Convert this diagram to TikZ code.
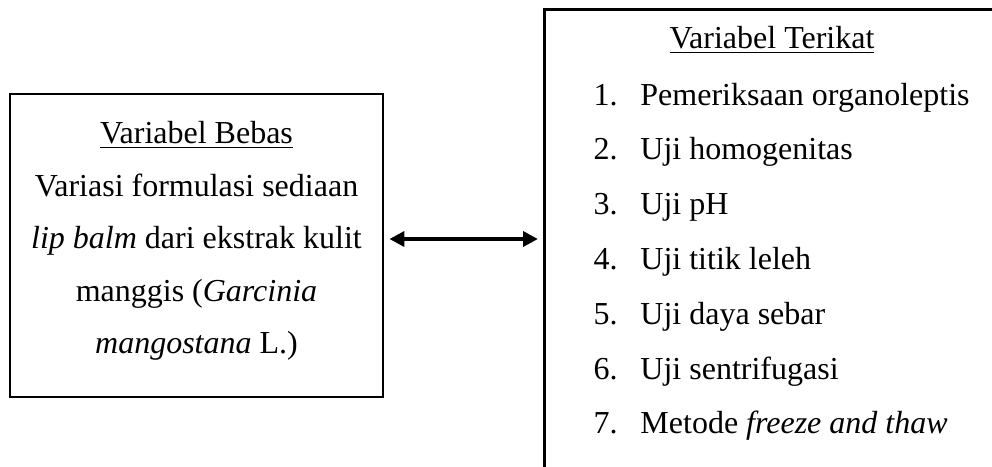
\documentclass[tikz,border=0pt]{standalone}
\usepackage{fontspec}
\setmainfont{Liberation Serif}
\usetikzlibrary{arrows.meta,calc,positioning}
\tikzset{
  kotak/.style={draw,line width=1pt,rectangle,inner sep=0pt},
  teks/.style={font=\fontsize{12}{19.7}\selectfont},
  duaarah/.style={{Triangle[length=5.6pt,width=5.6pt]}-{Triangle[length=5.6pt,width=5.6pt]},line width=1.5pt,shorten <=1.9pt,shorten >=1.9pt}
}

\begin{document}
\begin{tikzpicture}[x=0.375pt,y=-0.375pt]
  \path[use as bounding box,clip] (0,0) rectangle (992,466);
  % variabel bebas
  \node[kotak,minimum width=139.9pt,minimum height=113.6pt] (bebas) at (196.5,245.5) {};
  \node[teks,align=center] (bebasisi) at (196.5,241) {\underline{Variabel Bebas}\\
    Variasi formulasi sediaan\\
    \emph{lip balm} dari ekstrak kulit\\
    manggis (\emph{Garcinia}\\
    \emph{mangostana} L.)};
  % variabel terikat
  \node[kotak,anchor=north west,minimum width=200pt,minimum height=200pt] (terikat) at (543,8) {};
  \node[teks,anchor=base] (terikatjudul) at (772,48) {\underline{Variabel Terikat}};
  \foreach \k/\isi in {1/Pemeriksaan organoleptis,2/Uji homogenitas,3/Uji pH,4/Uji titik leleh,5/Uji daya sebar,6/Uji sentrifugasi,7/Metode \emph{freeze and thaw}}
    \node[teks,inner sep=0pt,anchor=base west] (uji\k) at (593,{105+54.8*(\k-1)}) {\makebox[17.6pt][l]{\k.}\isi};
  \coordinate (panah) at (0,239);
  \draw[duaarah] (bebas.east |- panah) -- (terikat.west |- panah);
\end{tikzpicture}
\end{document}
